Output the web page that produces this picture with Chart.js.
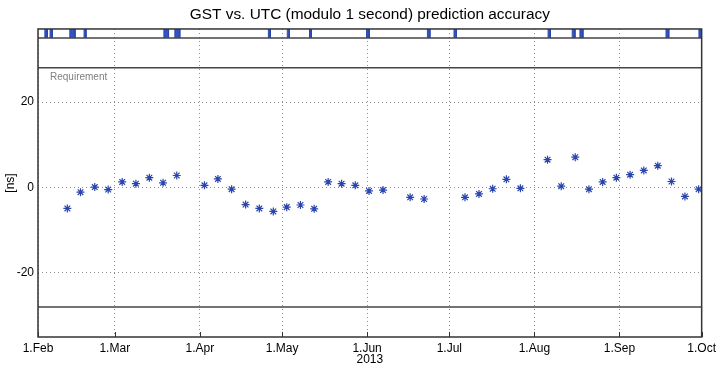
<!DOCTYPE html>
<html>
<head>
<meta charset="utf-8">
<script src="https://cdn.jsdelivr.net/npm/chart.js@4.4.0/dist/chart.umd.min.js"></script>
<style>
  html, body { margin: 0; padding: 0; background: #fff; }
</style>
</head>
<body>
<canvas id="chart" width="720" height="369"></canvas>
<script>
// x values are days since 1 Feb 2013
const sampleDays = [10.7, 15.5, 20.7, 25.6, 30.7, 35.7, 40.6, 45.6, 50.6, 60.7, 65.6, 70.6, 75.7, 80.7,
  85.8, 90.7, 95.7, 100.7, 105.8, 110.7, 115.7, 120.7, 125.8, 135.7, 140.8, 155.7, 160.8, 165.8,
  170.8, 175.9, 185.8, 190.8, 195.9, 200.9, 205.9, 210.9, 215.9, 220.9, 226.0, 231.0, 235.9, 240.9];
const offsetNs = [-4.9, -1.1, 0.1, -0.5, 1.3, 0.9, 2.3, 1.1, 2.8, 0.5, 2.0, -0.4, -4.0, -4.9,
  -5.6, -4.6, -4.1, -5.0, 1.3, 0.9, 0.5, -0.8, -0.6, -2.3, -2.7, -2.3, -1.5, -0.3,
  1.9, -0.2, 6.5, 0.3, 7.1, -0.4, 1.3, 2.3, 3.0, 4.0, 5.1, 1.4, -2.1, -0.4];

// marks in the top strip
const gapStart = [2.5, 4.4, 11.6, 16.8, 45.9, 49.9, 84.0, 90.9, 99.0, 119.8, 142.0, 151.7, 186.0, 194.8, 197.6, 229.0, 241.0];
const gapEnd   = [3.4, 5.2, 13.5, 17.5, 47.6, 51.7, 84.7, 91.7, 99.7, 120.8, 142.9, 152.6, 186.8, 195.8, 198.7, 230.0, 242.0];

const monthTicks = [0, 28, 59, 89, 120, 150, 181, 212, 242];
const monthLabels = ['1.Feb', '1.Mar', '1.Apr', '1.May', '1.Jun', '1.Jul', '1.Aug', '1.Sep', '1.Oct'];
const yTicks = [-20, 0, 20];

const requirement = 28;
const yMin = -35, yMax = 35, stripTop = 37.1;
const xMin = 0, xMax = 242;

const FONT = 'Liberation Sans, Arial, Helvetica, sans-serif';
const blue = '#2a46ad';

function hline(y) {
  return {
    type: 'line',
    data: [{ x: xMin, y: y }, { x: xMax, y: y }],
    showLine: true,
    borderColor: '#444',
    borderWidth: 1.5,
    pointRadius: 0,
  };
}

const datasets = [
  {
    label: 'offset',
    data: sampleDays.map((d, i) => ({ x: d, y: offsetNs[i] })),
    pointStyle: 'star',
    pointRadius: 4,
    pointBorderWidth: 1.2,
    borderColor: blue,
    backgroundColor: blue,
    showLine: false,
  },
  hline(requirement),
  hline(-requirement),
  hline(yMax),
];

gapStart.forEach((s, i) => {
  datasets.push({
    type: 'line',
    data: [{ x: s, y: yMax }, { x: s, y: stripTop }, { x: gapEnd[i], y: stripTop }, { x: gapEnd[i], y: yMax }],
    showLine: true,
    borderColor: blue,
    borderWidth: 1,
    backgroundColor: '#3553bf',
    fill: { value: yMax },
    pointRadius: 0,
    tension: 0,
  });
});

// frame round the axes, small inward month ticks and the "Requirement" note
const extras = {
  id: 'extras',
  afterDatasetsDraw(chart) {
    const { ctx, chartArea, scales } = chart;
    ctx.save();
    ctx.fillStyle = '#808080';
    ctx.font = '10px ' + FONT;
    ctx.textBaseline = 'middle';
    ctx.fillText('Requirement', scales.x.getPixelForValue(xMin) + 12, scales.y.getPixelForValue(requirement) + 9);

    ctx.strokeStyle = '#333';
    ctx.lineWidth = 1;
    monthTicks.forEach(v => {
      const px = Math.round(scales.x.getPixelForValue(v)) + 0.5;
      ctx.beginPath();
      ctx.moveTo(px, chartArea.bottom);
      ctx.lineTo(px, chartArea.bottom - 5);
      ctx.stroke();
    });

    ctx.lineWidth = 1.5;
    ctx.strokeRect(chartArea.left, chartArea.top, chartArea.right - chartArea.left, chartArea.bottom - chartArea.top);
    ctx.restore();
  }
};

new Chart(document.getElementById('chart').getContext('2d'), {
  type: 'scatter',
  data: { datasets },
  plugins: [extras],
  options: {
    responsive: false,
    animation: false,
    events: [],
    layout: { padding: { left: 0, right: 17, top: 0, bottom: 0 } },
    plugins: {
      legend: { display: false },
      tooltip: { enabled: false },
      title: {
        display: true,
        fullSize: false,
        text: 'GST vs. UTC (modulo 1 second) prediction accuracy',
        color: '#000',
        font: { family: FONT, size: 15.4, weight: 'normal' },
        padding: { top: 6, bottom: 4.5 },
      },
    },
    scales: {
      x: {
        type: 'linear',
        min: xMin,
        max: xMax,
        afterBuildTicks: (scale) => { scale.ticks = monthTicks.map(v => ({ value: v })); },
        afterFit: (scale) => { scale.height = 32; },
        ticks: {
          autoSkip: false,
          maxRotation: 0,
          padding: 4,
          color: '#000',
          font: { family: FONT, size: 12 },
          callback: (v) => monthLabels[monthTicks.indexOf(v)],
        },
        grid: { color: '#8a8a8a', lineWidth: 1, drawTicks: false },
        border: { display: false, dash: [1, 3] },
        title: { display: true, text: '2013', color: '#000', font: { family: FONT, size: 12 }, padding: { top: 0, bottom: 2 } },
      },
      y: {
        type: 'linear',
        min: yMin,
        max: stripTop,
        afterBuildTicks: (scale) => { scale.ticks = yTicks.map(v => ({ value: v })); },
        afterFit: (scale) => { scale.width = 38; },
        ticks: { padding: 4, color: '#000', font: { family: FONT, size: 12 } },
        grid: { color: '#8a8a8a', lineWidth: 1, drawTicks: false },
        border: { display: false, dash: [1, 3] },
        title: { display: true, text: '[ns]', color: '#000', font: { family: FONT, size: 12 }, padding: { top: 3, bottom: 0 } },
      },
    },
  },
});
</script>
</body>
</html>
